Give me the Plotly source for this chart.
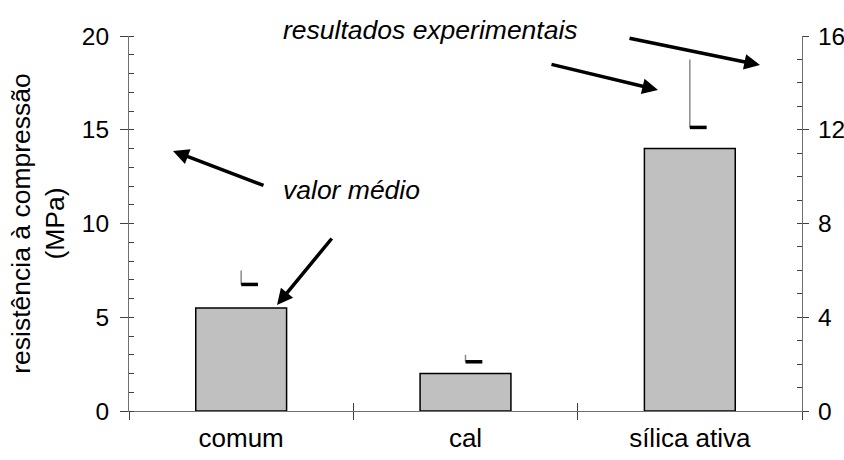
import plotly.graph_objects as go

# Mean compressive strength per mortar type (left axis, MPa)
categories = ["comum", "cal", "sílica ativa"]
mean_strength = [5.5, 2.0, 14.0]

# Experimental results (right axis): lowest and highest measured values
exp_low = [5.4, 2.1, 12.1]
exp_high = [6.0, 2.4, 15.0]

left_ticks = [0, 5, 10, 15, 20]
right_ticks = [0, 4, 8, 12, 16]

FONT = "Liberation Sans, Arial, sans-serif"
xpos = list(range(len(categories)))
boundaries = [i - 0.5 for i in range(len(categories) + 1)]

fig = go.Figure()

fig.add_trace(go.Bar(
    x=xpos, y=mean_strength, width=0.405,
    marker=dict(color="#c0c0c0", line=dict(color="black", width=1.5)),
    xaxis="x", yaxis="y", showlegend=False, hoverinfo="skip",
))

# high-low range lines for the experimental results
vx, vy = [], []
for c, lo, hi in zip(xpos, exp_low, exp_high):
    vx += [c, c, None]
    vy += [lo, hi, None]
fig.add_trace(go.Scatter(
    x=vx, y=vy, mode="lines", line=dict(color="#8a8a8a", width=1.5),
    xaxis="x", yaxis="y2", showlegend=False, hoverinfo="skip",
))

# short dash marking the lower result
dx, dy = [], []
for c, lo in zip(xpos, exp_low):
    dx += [c, c + 0.075, None]
    dy += [lo, lo, None]
fig.add_trace(go.Scatter(
    x=dx, y=dy, mode="lines", line=dict(color="black", width=3.5),
    xaxis="x", yaxis="y2", showlegend=False, hoverinfo="skip",
))

axis_line = "#707070"
tick_font = dict(family=FONT, size=24.5, color="black")

fig.update_layout(
    width=844, height=460,
    margin=dict(l=129, r=42, t=36, b=49, autoexpand=False),
    paper_bgcolor="white", plot_bgcolor="white",
    font=dict(family=FONT, color="black"),
    xaxis=dict(
        range=[-0.5, 2.5], tickvals=xpos, ticktext=categories,
        ticks="", showgrid=False, zeroline=False,
        showline=True, linecolor=axis_line, linewidth=1,
        tickfont=dict(family=FONT, size=26, color="black"),
        ticklabelstandoff=4, automargin=False,
        anchor="y",
    ),
    xaxis2=dict(
        overlaying="x", matches="x", anchor="y", side="bottom",
        tickvals=boundaries, ticks="outside", ticklen=8,
        tickcolor="#404040", tickwidth=1, automargin=False,
        showticklabels=False, showgrid=False, zeroline=False, showline=False,
    ),
    xaxis3=dict(
        overlaying="x", matches="x", anchor="y", side="bottom",
        tickvals=boundaries, ticks="inside", ticklen=8,
        tickcolor="#404040", tickwidth=1, automargin=False,
        showticklabels=False, showgrid=False, zeroline=False, showline=False,
    ),
    yaxis=dict(
        range=[0, 20], tickvals=left_ticks, ticks="outside", ticklen=8,
        tickcolor="#404040", tickwidth=1,
        minor=dict(dtick=1, ticks="inside", ticklen=5, tickcolor="#404040",
                   tickwidth=1, showgrid=False),
        showgrid=False, zeroline=False,
        showline=True, linecolor=axis_line, linewidth=1,
        tickfont=tick_font, ticklabelstandoff=6, automargin=False,
        title=dict(text="resistência à compressão<br>(MPa)",
                   font=dict(family=FONT, size=26.5, color="black"), standoff=9),
    ),
    yaxis2=dict(
        range=[0, 16], tickvals=right_ticks, overlaying="y", side="right",
        anchor="x", ticks="outside", ticklen=6,
        tickcolor="#404040", tickwidth=1, automargin=False,
        showgrid=False, zeroline=False,
        showline=True, linecolor=axis_line, linewidth=1,
        tickfont=tick_font, ticklabelstandoff=4,
    ),
    yaxis3=dict(
        range=[0, 16], dtick=1, overlaying="y", side="right", anchor="x",
        ticks="inside", ticklen=5, tickcolor="#404040", tickwidth=1,
        automargin=False,
        showticklabels=False, showgrid=False, zeroline=False, showline=False,
    ),
)

# empty traces so the extra tick axes get drawn
fig.add_trace(go.Scatter(x=[None], y=[None], xaxis="x2", yaxis="y",
                         showlegend=False, hoverinfo="skip"))
fig.add_trace(go.Scatter(x=[None], y=[None], xaxis="x3", yaxis="y",
                         showlegend=False, hoverinfo="skip"))
fig.add_trace(go.Scatter(x=[None], y=[None], xaxis="x", yaxis="y3",
                         showlegend=False, hoverinfo="skip"))

label_font = dict(family=FONT, size=26.5, color="black")
fig.add_annotation(text="<i>resultados experimentais</i>", xref="paper", yref="paper",
                   x=0.4487, y=1.015, showarrow=False, font=label_font,
                   xanchor="center", yanchor="middle")
fig.add_annotation(text="<i>valor médio</i>", xref="paper", yref="paper",
                   x=0.3306, y=0.589, showarrow=False, font=label_font,
                   xanchor="center", yanchor="middle")

arrow_style = dict(showarrow=True, arrowhead=2, arrowsize=0.9, arrowwidth=3.5,
                   arrowcolor="black", text="", xref="paper", yref="paper")
W, H, L, B = 673, 375, 129, 411
for tip, tail in [((173, 151), (265, 186)),
                  ((277, 305), (333, 237)),
                  ((658, 90), (550, 64)),
                  ((760, 65), (628, 38))]:
    fig.add_annotation(x=(tip[0] - L) / W, y=(B - tip[1]) / H,
                       ax=tail[0] - tip[0], ay=tail[1] - tip[1], **arrow_style)

fig.write_html("out.html")
